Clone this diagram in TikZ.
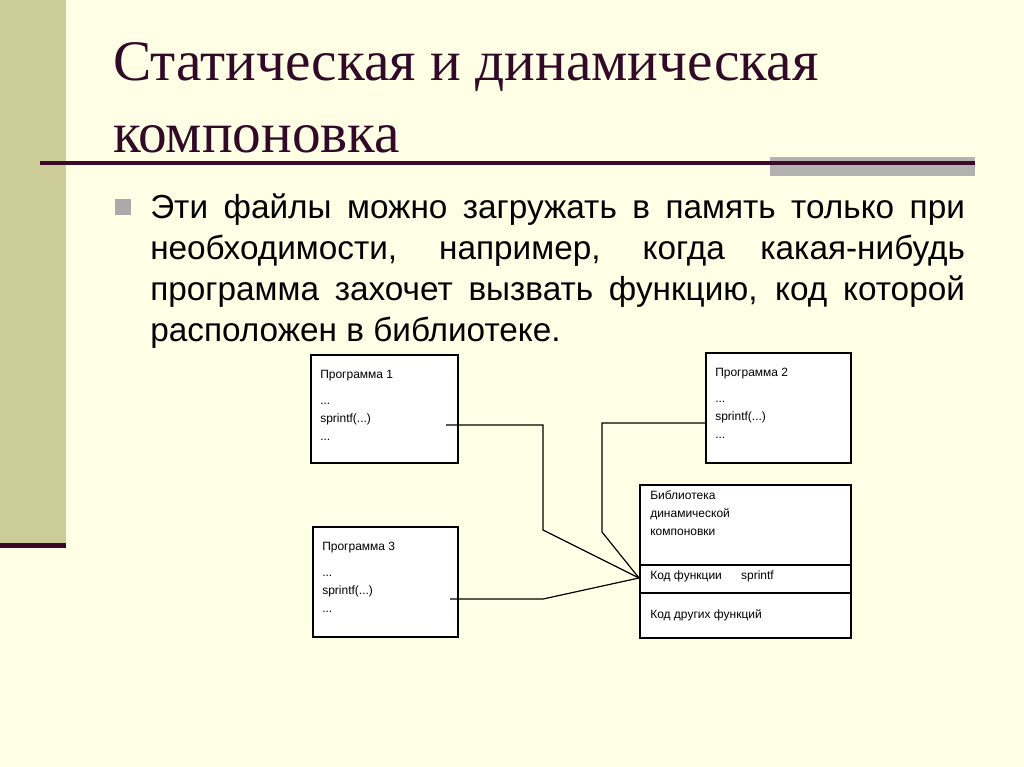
\documentclass[tikz,border=0pt]{standalone}
\usepackage{fontspec}
\setmainfont{Liberation Serif}
\newfontfamily\arialf{Liberation Sans}
\definecolor{bgc}{RGB}{255,255,230}
\definecolor{barc}{RGB}{204,204,153}
\definecolor{darkc}{RGB}{60,10,40}
\definecolor{titlec}{RGB}{50,10,40}
\definecolor{grayc}{RGB}{178,178,178}
\definecolor{bulc}{RGB}{170,170,170}
\begin{document}
\begin{tikzpicture}[x=0.75pt,y=-0.75pt,
  box/.style={draw=black,line width=0.9pt,fill=white},
  btxt/.style={font=\arialf\fontsize{9}{13.5}\selectfont,anchor=north west,align=left,inner sep=0pt},
  body/.style={font=\arialf\fontsize{25}{30}\selectfont,anchor=base west,inner sep=0pt},
  ttl/.style={font=\fontsize{43}{46}\selectfont,text=titlec,anchor=base west,inner sep=0pt},
  conn/.style={line width=0.9pt,black}]
\fill[bgc] (0,0) rectangle (1024,767);
\useasboundingbox (0,0) rectangle (1024,767);
\fill[barc] (0,0) rectangle (66,545);
\fill[darkc] (0,543) rectangle (66,548);
\fill[grayc] (770,157) rectangle (975,176);
\fill[darkc] (40,161) rectangle (975,165);
\node[ttl] (t1) at (113,80) {Статическая и динамическая};
\node[ttl] (t2) at (113,152) {компоновка};
\fill[bulc] (115,199) rectangle (131,215);
\node[body] (l1) at (150,218) {\makebox[611pt][s]{Эти файлы можно загружать в память только при}};
\node[body] (l2) at (150,259) {\makebox[611pt][s]{необходимости, например, когда какая-нибудь}};
\node[body] (l3) at (150,300) {\makebox[611pt][s]{программа захочет вызвать функцию, код которой}};
\node[body] (l4) at (150,341) {расположен в библиотеке.};
\draw[box] (311,355) rectangle (458,463);
\node[btxt] (p1) at (320,370) {Программа 1\\[6pt]...\\sprintf(...)\\...};
\draw[box] (706,353) rectangle (851,463);
\node[btxt] (p2) at (715,368) {Программа 2\\[6pt]...\\sprintf(...)\\...};
\draw[box] (313,527) rectangle (458,637);
\node[btxt] (p3) at (322,542) {Программа 3\\[6pt]...\\sprintf(...)\\...};
\draw[box] (640,485) rectangle (851,638);
\draw[line width=0.9pt] (640,565) -- (851,565) (640,593) -- (851,593);
\node[btxt] (lib) at (650,490) {Библиотека\\динамической\\компоновки};
\node[btxt] (f1) at (650,571) {Код функции\hspace{1.6em}sprintf};
\node[btxt] (f2) at (650,609) {Код других функций};
\coordinate (a1) at (446,425);
\coordinate (a2) at (705,423);
\coordinate (a3) at (450,599);
\coordinate (hub) at (639,578);
\draw[conn] (a1) -- (543,425) -- (543,530) -- (hub);
\draw[conn] (a2) -- (602,423) -- (602,532) -- (hub);
\draw[conn] (a3) -- (543,599) -- (hub);
\end{tikzpicture}
\end{document}
